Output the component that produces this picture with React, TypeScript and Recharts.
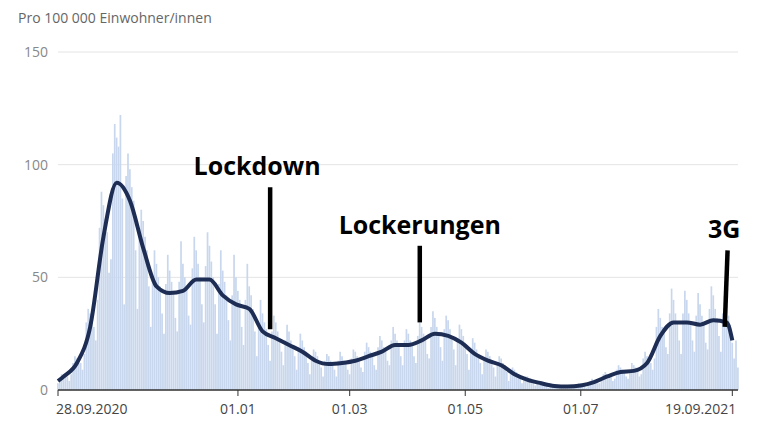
import { ComposedChart, Bar, Line, XAxis, YAxis, CartesianGrid, ReferenceLine } from "recharts";

// daily cases per 100 000, one row per week, starting Monday 28.09.2020
const dailyWeeks: number[][] = [
  [3, 5, 7, 6, 7, 6, 4],
  [7, 12, 15, 14, 13, 12, 9],
  [16, 30, 36, 34, 31, 28, 22],
  [40, 72, 88, 82, 76, 70, 52],
  [58, 105, 118, 112, 108, 122, 85],
  [38, 95, 105, 98, 90, 84, 62],
  [36, 70, 80, 75, 68, 62, 46],
  [28, 50, 62, 56, 50, 46, 34],
  [25, 47, 60, 53, 48, 44, 32],
  [26, 48, 66, 56, 50, 45, 33],
  [29, 54, 68, 62, 56, 50, 38],
  [30, 55, 70, 64, 57, 50, 38],
  [25, 47, 62, 53, 48, 42, 31],
  [22, 42, 60, 50, 44, 40, 28],
  [20, 40, 56, 46, 42, 36, 26],
  [15, 29, 40, 34, 30, 27, 20],
  [13, 26, 33, 30, 26, 23, 17],
  [11, 22, 29, 26, 22, 20, 15],
  [9, 19, 25, 22, 19, 17, 12],
  [7, 14, 18, 17, 15, 13, 10],
  [6, 13, 16, 15, 13, 11, 9],
  [6, 13, 17, 15, 13, 12, 9],
  [7, 14, 18, 17, 15, 13, 10],
  [8, 17, 21, 19, 17, 15, 11],
  [9, 19, 24, 22, 19, 17, 13],
  [11, 22, 28, 25, 22, 20, 15],
  [11, 22, 27, 25, 22, 20, 15],
  [12, 24, 30, 28, 25, 22, 16],
  [14, 28, 35, 32, 28, 25, 19],
  [13, 27, 33, 31, 27, 24, 18],
  [11, 23, 29, 27, 24, 21, 16],
  [9, 18, 23, 21, 18, 16, 12],
  [7, 14, 18, 17, 15, 13, 10],
  [6, 12, 15, 14, 12, 11, 8],
  [4, 8, 10, 9, 8, 7, 5],
  [3, 5, 6, 6, 5, 4, 3],
  [2, 3, 4, 4, 3, 3, 2],
  [1, 2, 2, 2, 2, 2, 1],
  [1, 2, 2, 2, 2, 1, 1],
  [1, 2, 3, 3, 2, 2, 1],
  [2, 4, 5, 4, 4, 3, 3],
  [4, 7, 8, 7, 7, 6, 4],
  [5, 9, 11, 10, 9, 8, 6],
  [5, 9, 12, 11, 10, 8, 6],
  [7, 14, 17, 15, 14, 12, 9],
  [14, 28, 36, 32, 28, 25, 19],
  [16, 34, 45, 40, 34, 30, 22],
  [16, 34, 44, 40, 34, 30, 22],
  [17, 33, 43, 38, 33, 29, 21],
  [18, 36, 46, 42, 36, 32, 24],
  [17, 34, 42, 38, 33, 29, 21],
  [14, 22, 10],
];

// 7-day average, one value per week (drawn at mid-week)
const weeklyAverage = [
  6, 12, 28, 68, 92, 84, 63, 46, 43, 44, 49, 49, 42, 38, 36, 26, 23, 20, 17, 13,
  11.5, 12, 13, 15, 17, 20, 20, 22, 25, 24, 21, 16, 13, 11, 7, 4.5, 3, 1.8, 1.5,
  2, 3.5, 6, 8, 8.5, 12, 24, 30, 30, 29, 31, 30,
];
const firstAverage = 4;
const lastAverage = { day: 356, value: 22 };

const tickDays = [0, 95, 154, 215, 276, 356];
const tickLabels = ["28.09.2020", "01.01", "01.03", "01.05", "01.07", "19.09.2021"];

const annotations = [
  { label: "Lockdown", x1: 112, x2: 112, y1: 27, y2: 90, dx: -13 },
  { label: "Lockerungen", x1: 191, x2: 191, y1: 30, y2: 64, dx: 0 },
  { label: "3G", x1: 352, x2: 353.5, y1: 28, y2: 62, dx: -2 },
];

const data = dailyWeeks.flat().map((value, day) => {
  const row: { day: number; value: number; avg?: number } = { day, value };
  if (day % 7 === 3 && weeklyAverage[(day - 3) / 7] !== undefined) row.avg = weeklyAverage[(day - 3) / 7];
  if (day === 0) row.avg = firstAverage;
  if (day === lastAverage.day) row.avg = lastAverage.value;
  return row;
});

const DateTick = (p: any) => {
  const i = tickDays.indexOf(p.payload.value);
  const anchor = i === 0 ? "start" : i === tickDays.length - 1 ? "end" : "middle";
  const shift = i === 0 ? -2 : i === tickDays.length - 1 ? 4 : 0;
  return (
    <text x={p.x + shift} y={p.y + 16} textAnchor={anchor} fontSize={14} fill="#444" fontFamily="'Open Sans', sans-serif">
      {tickLabels[i]}
    </text>
  );
};

export default function App() {
  return (
    <div style={{ position: "absolute", left: 0, top: 0, width: 768, height: 422, background: "#fff", fontFamily: "'Open Sans', sans-serif" }}>
      <div style={{ position: "absolute", left: 18, top: 8, fontSize: 14, color: "#666" }}>
        Pro 100 000 Einwohner/innen
      </div>
      <ComposedChart width={768} height={422} data={data} margin={{ top: 52, right: 30, bottom: 2, left: 0 }} barCategoryGap={0}>
        <CartesianGrid vertical={false} stroke="#e4e4e4" />
        <XAxis
          dataKey="day"
          type="number"
          domain={[0, 359]}
          ticks={tickDays}
          tick={<DateTick />}
          axisLine={{ stroke: "#333", strokeWidth: 1.5 }}
          tickLine={{ stroke: "#333" }}
          height={30}
          interval={0}
        />
        <YAxis
          domain={[0, 150]}
          ticks={[0, 50, 100, 150]}
          width={58}
          axisLine={false}
          tickLine={false}
          tick={{ fontSize: 14, fill: "#888", dx: -2 }}
        />
        <Bar dataKey="value" fill="#c8d7ed" barSize={2} isAnimationActive={false} />
        <Line
          dataKey="avg"
          type="monotone"
          connectNulls
          stroke="#1e2d54"
          strokeWidth={4}
          dot={false}
          isAnimationActive={false}
        />
        {annotations.map((a) => (
          <ReferenceLine
            key={a.label}
            segment={[{ x: a.x1, y: a.y1 }, { x: a.x2, y: a.y2 }]}
            stroke="#000"
            strokeWidth={4.5}
            label={(p: any) => {
              const vb = p.viewBox;
              return (
                <text
                  x={vb.x + vb.width / 2 + a.dx}
                  y={Math.min(vb.y, vb.y + vb.height) - 12}
                  textAnchor="middle"
                  fontSize={25}
                  fontWeight={700}
                  fill="#000"
                  fontFamily="'Open Sans', sans-serif"
                >
                  {a.label}
                </text>
              );
            }}
          />
        ))}
      </ComposedChart>
    </div>
  );
}
